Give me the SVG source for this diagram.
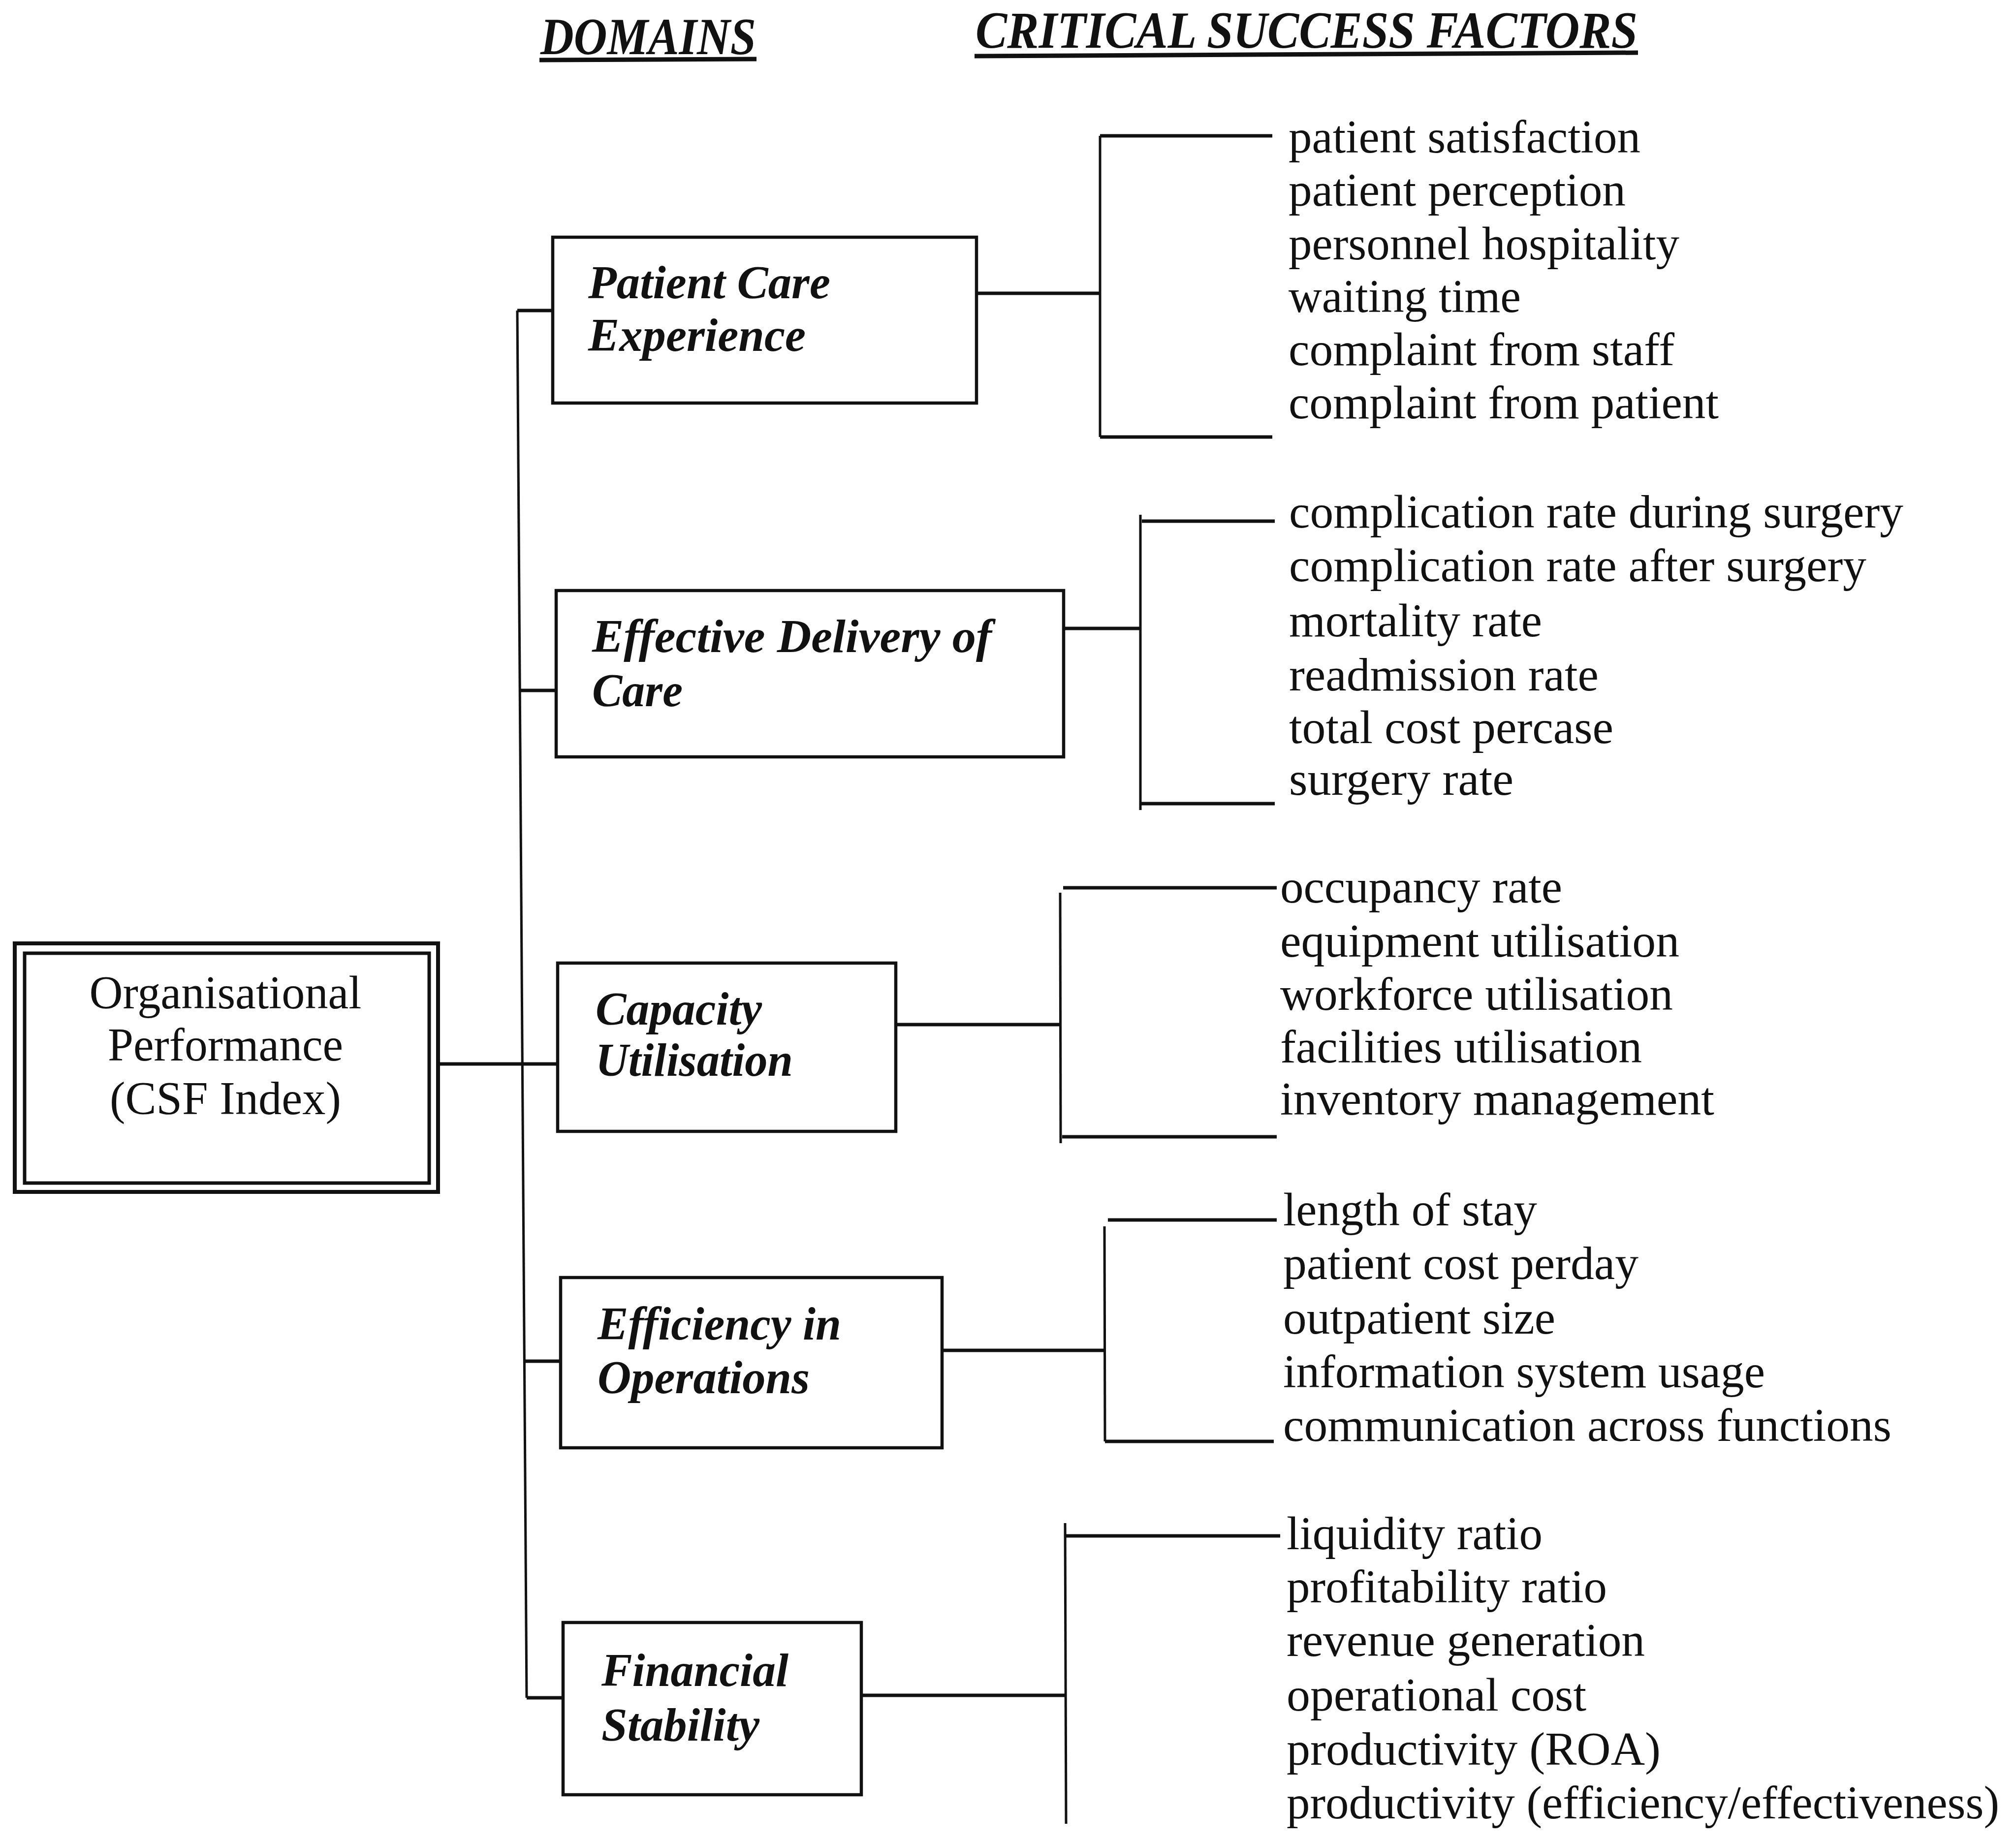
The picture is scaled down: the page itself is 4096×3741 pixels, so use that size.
<svg xmlns="http://www.w3.org/2000/svg" width="4096" height="3741" viewBox="0 0 4096 3741">
  <style>
    .t{font-family:"Liberation Serif","Times New Roman",serif;fill:#111111}
    .h{font-weight:bold;font-style:italic;font-size:106px}
    .d{font-weight:bold;font-style:italic;font-size:96px}
    .l{font-size:96px}
    .r{font-size:96px}
    .box{fill:none;stroke:#111111;stroke-width:6.5}
    .v{stroke:#111111;stroke-width:5;fill:none}
    .hz{stroke:#111111;stroke-width:7;fill:none}
  </style>
  <rect x="0" y="0" width="4096" height="3741" fill="#ffffff"/>

  <!-- column headings -->
  <g id="headings">
    <text class="t h" x="1098" y="110" textLength="438" lengthAdjust="spacingAndGlyphs">DOMAINS</text>
    <line x1="1096" y1="122" x2="1537" y2="120" stroke="#111111" stroke-width="9"/>
    <text class="t h" x="1982" y="97" textLength="1345" lengthAdjust="spacingAndGlyphs">CRITICAL SUCCESS FACTORS</text>
    <line x1="1980" y1="114" x2="3328" y2="107" stroke="#111111" stroke-width="9"/>
  </g>

  <!-- root node -->
  <g id="node-root">
    <rect x="30" y="1917" width="860" height="505" fill="none" stroke="#111111" stroke-width="8"/>
    <rect x="50" y="1937" width="822" height="467" fill="none" stroke="#111111" stroke-width="7"/>
    <text class="t r" x="458" y="2049" text-anchor="middle" textLength="553" lengthAdjust="spacingAndGlyphs">Organisational</text>
    <text class="t r" x="458" y="2155" text-anchor="middle" textLength="478" lengthAdjust="spacingAndGlyphs">Performance</text>
    <text class="t r" x="458" y="2264" text-anchor="middle" textLength="470" lengthAdjust="spacingAndGlyphs">(CSF Index)</text>
  </g>

  <!-- domain nodes -->
  <g id="node-patient-care">
    <rect class="box" x="1123" y="482" width="861" height="337"/>
    <text class="t d" x="1195" y="606" textLength="492" lengthAdjust="spacingAndGlyphs">Patient Care</text>
    <text class="t d" x="1195" y="713" textLength="442" lengthAdjust="spacingAndGlyphs">Experience</text>
  </g>
  <g id="node-effective-delivery">
    <rect class="box" x="1130" y="1200" width="1031" height="338"/>
    <text class="t d" x="1203" y="1325" textLength="812" lengthAdjust="spacingAndGlyphs">Effective Delivery of</text>
    <text class="t d" x="1203" y="1435" textLength="184" lengthAdjust="spacingAndGlyphs">Care</text>
  </g>
  <g id="node-capacity">
    <rect class="box" x="1133" y="1957" width="687" height="342"/>
    <text class="t d" x="1210" y="2082" textLength="338" lengthAdjust="spacingAndGlyphs">Capacity</text>
    <text class="t d" x="1210" y="2186" textLength="401" lengthAdjust="spacingAndGlyphs">Utilisation</text>
  </g>
  <g id="node-efficiency">
    <rect class="box" x="1139" y="2596" width="775" height="346"/>
    <text class="t d" x="1214" y="2722" textLength="495" lengthAdjust="spacingAndGlyphs">Efficiency in</text>
    <text class="t d" x="1214" y="2831" textLength="431" lengthAdjust="spacingAndGlyphs">Operations</text>
  </g>
  <g id="node-financial">
    <rect class="box" x="1144" y="3297" width="606" height="350"/>
    <text class="t d" x="1222" y="3426" textLength="380" lengthAdjust="spacingAndGlyphs">Financial</text>
    <text class="t d" x="1222" y="3537" textLength="321" lengthAdjust="spacingAndGlyphs">Stability</text>
  </g>

  <!-- critical success factor lists -->
  <g id="csf-patient-care">
    <text class="t l" x="2618" y="310" textLength="715" lengthAdjust="spacingAndGlyphs">patient satisfaction</text>
    <text class="t l" x="2618" y="418" textLength="685" lengthAdjust="spacingAndGlyphs">patient perception</text>
    <text class="t l" x="2618" y="527" textLength="794" lengthAdjust="spacingAndGlyphs">personnel hospitality</text>
    <text class="t l" x="2618" y="634" textLength="472" lengthAdjust="spacingAndGlyphs">waiting time</text>
    <text class="t l" x="2618" y="742" textLength="784" lengthAdjust="spacingAndGlyphs">complaint from staff</text>
    <text class="t l" x="2618" y="850" textLength="874" lengthAdjust="spacingAndGlyphs">complaint from patient</text>
  </g>
  <g id="csf-effective-delivery">
    <text class="t l" x="2619" y="1072" textLength="1248" lengthAdjust="spacingAndGlyphs">complication rate during surgery</text>
    <text class="t l" x="2619" y="1181" textLength="1173" lengthAdjust="spacingAndGlyphs">complication rate after surgery</text>
    <text class="t l" x="2619" y="1293" textLength="514" lengthAdjust="spacingAndGlyphs">mortality rate</text>
    <text class="t l" x="2619" y="1403" textLength="629" lengthAdjust="spacingAndGlyphs">readmission rate</text>
    <text class="t l" x="2619" y="1510" textLength="659" lengthAdjust="spacingAndGlyphs">total cost percase</text>
    <text class="t l" x="2619" y="1615" textLength="456" lengthAdjust="spacingAndGlyphs">surgery rate</text>
  </g>
  <g id="csf-capacity">
    <text class="t l" x="2601" y="1834" textLength="573" lengthAdjust="spacingAndGlyphs">occupancy rate</text>
    <text class="t l" x="2601" y="1944" textLength="811" lengthAdjust="spacingAndGlyphs">equipment utilisation</text>
    <text class="t l" x="2601" y="2052" textLength="798" lengthAdjust="spacingAndGlyphs">workforce utilisation</text>
    <text class="t l" x="2601" y="2159" textLength="735" lengthAdjust="spacingAndGlyphs">facilities utilisation</text>
    <text class="t l" x="2601" y="2265" textLength="882" lengthAdjust="spacingAndGlyphs">inventory management</text>
  </g>
  <g id="csf-efficiency">
    <text class="t l" x="2607" y="2490" textLength="516" lengthAdjust="spacingAndGlyphs">length of stay</text>
    <text class="t l" x="2607" y="2599" textLength="722" lengthAdjust="spacingAndGlyphs">patient cost perday</text>
    <text class="t l" x="2607" y="2710" textLength="553" lengthAdjust="spacingAndGlyphs">outpatient size</text>
    <text class="t l" x="2607" y="2819" textLength="979" lengthAdjust="spacingAndGlyphs">information system usage</text>
    <text class="t l" x="2607" y="2928" textLength="1236" lengthAdjust="spacingAndGlyphs">communication across functions</text>
  </g>
  <g id="csf-financial">
    <text class="t l" x="2614" y="3148" textLength="520" lengthAdjust="spacingAndGlyphs">liquidity ratio</text>
    <text class="t l" x="2614" y="3256" textLength="651" lengthAdjust="spacingAndGlyphs">profitability ratio</text>
    <text class="t l" x="2614" y="3365" textLength="728" lengthAdjust="spacingAndGlyphs">revenue generation</text>
    <text class="t l" x="2614" y="3476" textLength="609" lengthAdjust="spacingAndGlyphs">operational cost</text>
    <text class="t l" x="2614" y="3586" textLength="760" lengthAdjust="spacingAndGlyphs">productivity (ROA)</text>
    <text class="t l" x="2614" y="3695" textLength="1448" lengthAdjust="spacingAndGlyphs">productivity (efficiency/effectiveness)</text>
  </g>

  <!-- connectors: trunk, branches and brackets -->
  <g id="connectors">
    <line class="v" x1="1051" y1="631" x2="1070" y2="3450"/>
    <line class="hz" x1="1051" y1="631" x2="1123" y2="631"/>
    <line class="hz" x1="1056" y1="1403" x2="1130" y2="1403"/>
    <line class="hz" x1="890" y1="2162" x2="1133" y2="2162"/>
    <line class="hz" x1="1065" y1="2766" x2="1139" y2="2766"/>
    <line class="hz" x1="1070" y1="3450" x2="1144" y2="3450"/>

    <!-- patient care bracket -->
    <line class="hz" x1="1984" y1="596" x2="2235" y2="596"/>
    <line class="v" x1="2235" y1="276" x2="2235" y2="888"/>
    <line class="hz" x1="2235" y1="276" x2="2585" y2="276"/>
    <line class="hz" x1="2235" y1="888" x2="2585" y2="888"/>

    <!-- effective delivery bracket -->
    <line class="hz" x1="2161" y1="1277" x2="2317" y2="1277"/>
    <line class="v" x1="2317" y1="1046" x2="2317" y2="1646"/>
    <line class="hz" x1="2320" y1="1059" x2="2590" y2="1059"/>
    <line class="hz" x1="2317" y1="1633" x2="2590" y2="1633"/>

    <!-- capacity bracket -->
    <line class="hz" x1="1820" y1="2082" x2="2154" y2="2082"/>
    <line class="v" x1="2154" y1="1814" x2="2155" y2="2323"/>
    <line class="hz" x1="2160" y1="1804" x2="2594" y2="1804"/>
    <line class="hz" x1="2158" y1="2310" x2="2594" y2="2310"/>

    <!-- efficiency bracket -->
    <line class="hz" x1="1914" y1="2744" x2="2245" y2="2744"/>
    <line class="v" x1="2244" y1="2492" x2="2245" y2="2929"/>
    <line class="hz" x1="2251" y1="2479" x2="2594" y2="2479"/>
    <line class="hz" x1="2245" y1="2929" x2="2588" y2="2929"/>

    <!-- financial bracket -->
    <line class="hz" x1="1750" y1="3445" x2="2164" y2="3445"/>
    <line class="v" x1="2164" y1="3095" x2="2166" y2="3706"/>
    <line class="hz" x1="2166" y1="3121" x2="2601" y2="3121"/>
  </g>
</svg>
